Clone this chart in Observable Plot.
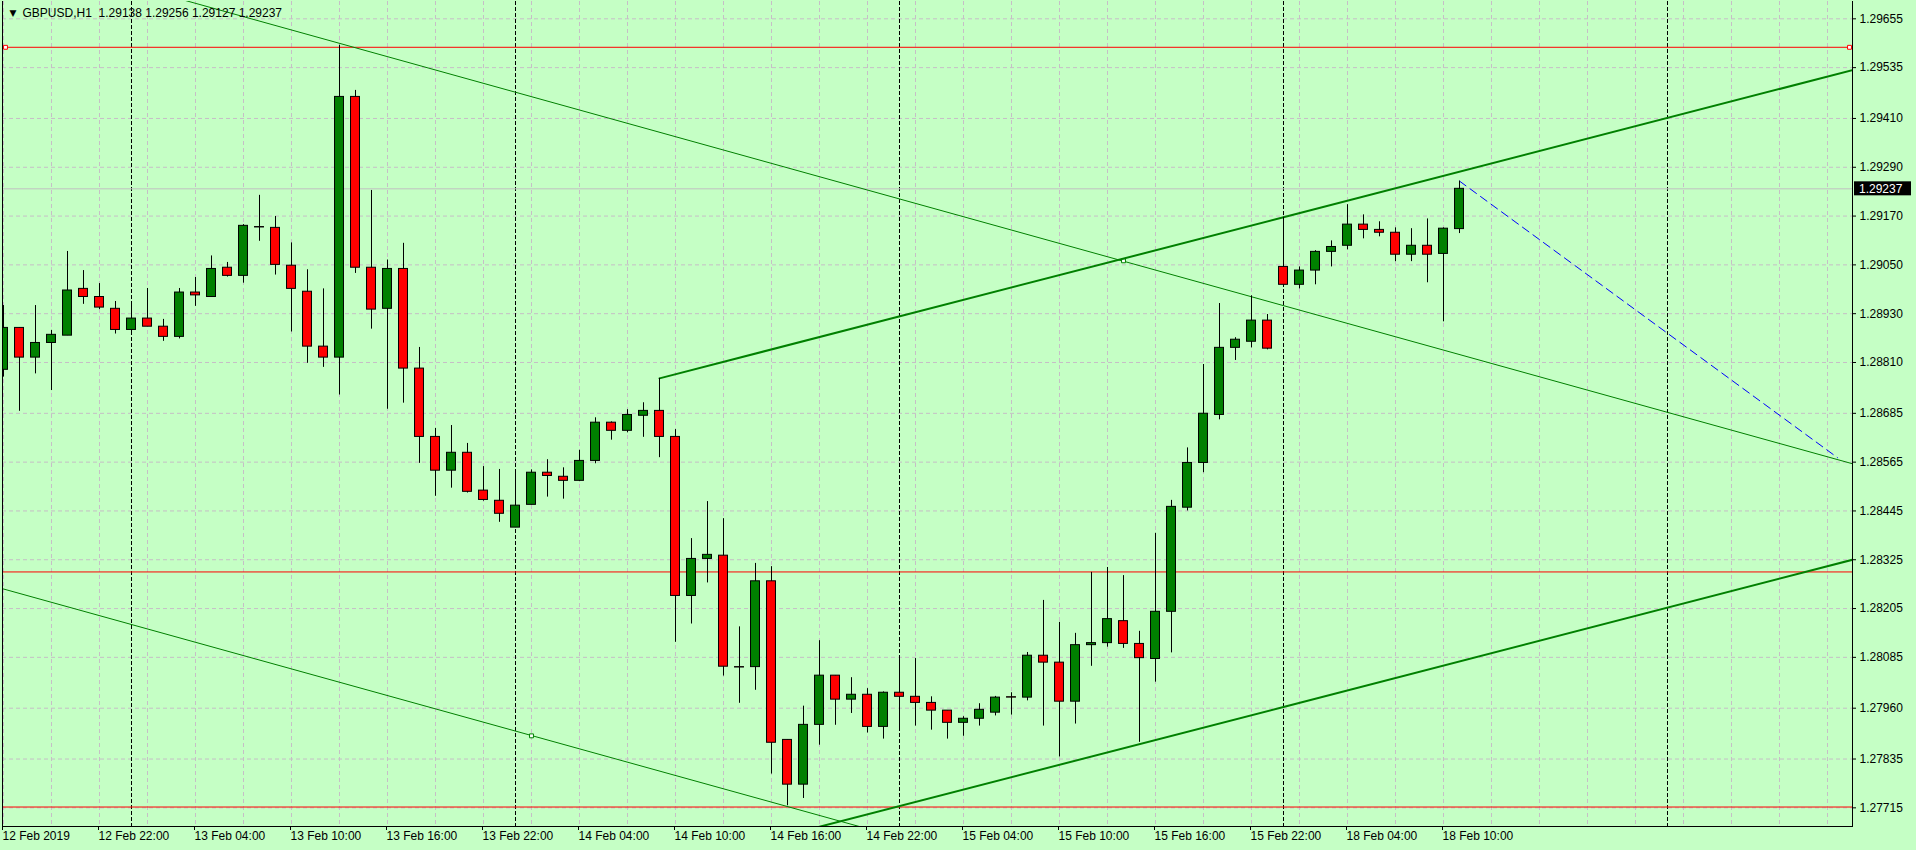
<!DOCTYPE html>
<html><head><meta charset="utf-8">
<script src="https://cdn.jsdelivr.net/npm/d3@7"></script>
<script src="https://cdn.jsdelivr.net/npm/@observablehq/plot@0.6"></script>
<style>
html,body{margin:0;padding:0;background:#C5FFC5;overflow:hidden;}
#chart{position:relative;width:1916px;height:850px;}
</style></head><body><div id="chart"></div>
<script>
// ---- data (H1 bars, index 0 = 12 Feb 2019 16:00) ----
const symbolTitle = "GBPUSD,H1";
const lastOHLC = ["1.29138", "1.29256", "1.29127", "1.29237"];

const opens = [1.28792,1.28895,1.28822,1.28858,1.28876,1.28991,1.28971,1.28942,1.28890,1.28918,
1.28898,1.28873,1.28982,1.28971,1.29043,1.29023,1.29143,1.29141,1.29048,1.28984,
1.28849,1.28822,1.29463,1.29043,1.28942,1.29040,1.28795,1.28627,1.28544,1.28588,
1.28495,1.28470,1.28404,1.28460,1.28539,1.28529,1.28519,1.28568,1.28662,1.28642,
1.28679,1.28691,1.28627,1.28236,1.28327,1.28335,1.28061,1.28061,1.28272,1.27882,
1.27772,1.27919,1.28040,1.27981,1.27993,1.27914,1.27998,1.27988,1.27973,1.27954,
1.27924,1.27934,1.27949,1.27987,1.27986,1.28089,1.28072,1.27976,1.28115,1.28120,
1.28174,1.28118,1.28081,1.28197,1.28453,1.28563,1.28681,1.28846,1.28861,1.28913,
1.29045,1.29001,1.29036,1.29082,1.29097,1.29149,1.29136,1.29129,1.29075,1.29097,
1.29077,1.29138];
const highs = [1.28950,1.28896,1.28950,1.28889,1.29083,1.29036,1.29004,1.28960,1.28960,1.28992,
1.28916,1.28992,1.29019,1.29072,1.29056,1.29149,1.29221,1.29169,1.29104,1.29038,
1.28991,1.29590,1.29479,1.29233,1.29062,1.29103,1.28847,1.28648,1.28655,1.28611,
1.28554,1.28547,1.28544,1.28546,1.28571,1.28551,1.28594,1.28674,1.28664,1.28694,
1.28711,1.28771,1.28645,1.28377,1.28468,1.28426,1.28160,1.28316,1.28308,1.27882,
1.27965,1.28126,1.28040,1.28035,1.28008,1.28000,1.28086,1.28082,1.27988,1.27954,
1.27939,1.27971,1.27989,1.27998,1.28097,1.28225,1.28171,1.28144,1.28294,1.28306,
1.28286,1.28149,1.28390,1.28471,1.28600,1.28805,1.28955,1.28871,1.28974,1.28928,
1.29167,1.29045,1.29085,1.29109,1.29198,1.29173,1.29156,1.29141,1.29139,1.29163,
1.29141,1.29256];
const lows = [1.28774,1.28690,1.28782,1.28741,1.28876,1.28953,1.28940,1.28880,1.28878,1.28898,
1.28862,1.28868,1.28948,1.28971,1.29020,1.29005,1.29108,1.29025,1.28885,1.28808,
1.28798,1.28730,1.29029,1.28892,1.28695,1.28710,1.28562,1.28481,1.28501,1.28489,
1.28469,1.28417,1.28404,1.28460,1.28479,1.28474,1.28517,1.28561,1.28619,1.28637,
1.28626,1.28576,1.28122,1.28167,1.28268,1.28039,1.27972,1.28004,1.27798,1.27720,
1.27738,1.27869,1.27918,1.27947,1.27899,1.27884,1.27903,1.27916,1.27906,1.27884,
1.27891,1.27916,1.27941,1.27943,1.27978,1.27916,1.27840,1.27921,1.28063,1.28110,
1.28107,1.27876,1.28024,1.28096,1.28445,1.28539,1.28669,1.28815,1.28846,1.28841,
1.29001,1.28991,1.29001,1.29045,1.29087,1.29114,1.29119,1.29058,1.29058,1.29006,
1.28910,1.29127];
const closes = [1.28895,1.28822,1.28858,1.28878,1.28987,1.28971,1.28945,1.28890,1.28918,1.28898,
1.28873,1.28982,1.28975,1.29040,1.29023,1.29146,1.29142,1.29050,1.28991,1.28849,
1.28822,1.29463,1.29043,1.28940,1.29040,1.28795,1.28627,1.28544,1.28588,1.28492,
1.28472,1.28438,1.28458,1.28539,1.28531,1.28519,1.28568,1.28662,1.28642,1.28681,
1.28691,1.28627,1.28236,1.28327,1.28337,1.28062,1.28060,1.28272,1.27875,1.27772,
1.27919,1.28040,1.27981,1.27993,1.27914,1.27998,1.27988,1.27973,1.27954,1.27924,
1.27934,1.27956,1.27986,1.27986,1.28089,1.28072,1.27976,1.28115,1.28120,1.28179,
1.28118,1.28083,1.28197,1.28455,1.28563,1.28684,1.28846,1.28866,1.28913,1.28844,
1.29001,1.29036,1.29082,1.29094,1.29149,1.29136,1.29129,1.29075,1.29097,1.29075,
1.29139,1.29237];

// axis ticks
const priceTicks = [1.29655,1.29535,1.29410,1.29290,1.29170,1.29050,1.28930,1.28810,1.28685,
  1.28565,1.28445,1.28325,1.28205,1.28085,1.27960,1.27835,1.27715];
const timeTickBars = [0,6,12,18,24,30,36,42,48,54,60,66,72,78,84,90];
const timeTickLabels = ["12 Feb 2019","12 Feb 22:00","13 Feb 04:00","13 Feb 10:00","13 Feb 16:00",
  "13 Feb 22:00","14 Feb 04:00","14 Feb 10:00","14 Feb 16:00","14 Feb 22:00","15 Feb 04:00",
  "15 Feb 10:00","15 Feb 16:00","15 Feb 22:00","18 Feb 04:00","18 Feb 10:00"];
const daySeparatorBars = [8, 32, 56, 80, 104];

// drawn objects (bar index, price)
const horizontalLevels = [1.29585, 1.28295, 1.27717];
const levelEndMarks = [{i: 0.125, p: 1.29585}, {i: 115.375, p: 1.29585}];
const upperThinLine = [{i: 10, p: 1.29715}, {i: 115.5625, p: 1.28561}];
const lowerThinLine = [{i: -1, p: 1.28264}, {i: 60, p: 1.27598}];
const thinLineAnchors = [{i: 70, p: 1.29060}, {i: 33, p: 1.27892}];
const upperThickLine = [{i: 41, p: 1.28771}, {i: 80, p: 1.29167}, {i: 115.5625, p: 1.29529}];
const lowerThickLine = [{i: 41, p: 1.27567}, {i: 80, p: 1.27963}, {i: 115.5625, p: 1.28325}];
const blueDashLine = [{i: 91, p: 1.29256}, {i: 114.625, p: 1.28576}];

// ---- build ----
const bars = opens.map((o, i) => ({i, open: o, high: highs[i], low: lows[i], close: closes[i]}));
const lastClose = closes[closes.length - 1];
const labelOf = new Map(timeTickBars.map((b, k) => [b, timeTickLabels[k]]));
const gridBars = d3.range(0, 116, 3);

const BG = "#C5FFC5", GRID = "#C6BEC6", GREEN = "#008000", RED = "#FF0000";
const FONT = "'Liberation Sans', Arial, sans-serif";

const chart = Plot.plot({
  width: 1916, height: 850,
  marginLeft: 2, marginRight: 64, marginTop: 1, marginBottom: 24,
  style: {background: BG, fontFamily: FONT, fontSize: "12px", color: "black", overflow: "visible"},
  x: {type: "linear", domain: [-1/16, 115.5625], axis: null, label: null},
  y: {type: "linear", domain: [1.276691, 1.296976], axis: null, label: null},
  marks: [
    // grid
    Plot.ruleX(gridBars, {x: d => d, stroke: GRID, strokeDasharray: "4,3"}),
    Plot.ruleY(priceTicks, {y: d => d, stroke: GRID, strokeDasharray: "4,3"}),
    Plot.ruleX(daySeparatorBars, {x: d => d, stroke: "black", strokeDasharray: "4,2"}),
    // bid line
    Plot.ruleY([lastClose], {y: d => d, stroke: "#C0C0C0"}),
    // horizontal levels
    Plot.ruleY(horizontalLevels, {y: d => d, stroke: RED, strokeWidth: 1}),
    Plot.dot(levelEndMarks, {x: "i", y: "p", symbol: "square", r: 2.2, stroke: RED, fill: "white", strokeWidth: 1}),
    // channels
    Plot.line(upperThinLine, {x: "i", y: "p", stroke: GREEN, strokeWidth: 1, clip: true}),
    Plot.line(lowerThinLine, {x: "i", y: "p", stroke: GREEN, strokeWidth: 1, clip: true}),
    Plot.dot(thinLineAnchors, {x: "i", y: "p", symbol: "square", r: 2.2, stroke: GREEN, fill: "white", strokeWidth: 1}),
    Plot.line(upperThickLine, {x: "i", y: "p", stroke: GREEN, strokeWidth: 2, clip: true}),
    Plot.line(lowerThickLine, {x: "i", y: "p", stroke: GREEN, strokeWidth: 2, clip: true}),
    Plot.line(blueDashLine, {x: "i", y: "p", stroke: "#0000FF", strokeWidth: 1, strokeDasharray: "8,5", clip: true}),
    // candles
    Plot.ruleX(bars, {x: "i", y1: "low", y2: "high", stroke: "black", strokeWidth: 1, clip: true}),
    Plot.rect(bars, {x1: d => d.i - 0.28, x2: d => d.i + 0.28, y1: "open", y2: "close",
      fill: d => d.close >= d.open ? GREEN : RED, stroke: "black", strokeWidth: 1, clip: true}),
    // frame
    Plot.frame({anchor: "left", stroke: "black"}),
    Plot.frame({anchor: "right", stroke: "black"}),
    Plot.frame({anchor: "bottom", stroke: "black"}),
    // axes
    Plot.axisY(priceTicks, {anchor: "right", tickSize: 3, tickPadding: 4, label: null,
      tickFormat: d => d.toFixed(5), fontSize: 12, fill: "black"}),
    Plot.axisX(timeTickBars, {anchor: "bottom", tickSize: 4, tickPadding: 1, label: null,
      tickFormat: d => labelOf.get(d), textAnchor: "start", dx: -1, fontSize: 12, fill: "black"}),
    // title
    Plot.text(["\u25BC"], {frameAnchor: "top-left", dx: 7, dy: 12, textAnchor: "start", lineAnchor: "middle",
      fontSize: 9, fill: "black", fontFamily: "DejaVu Sans"}),
    Plot.text([symbolTitle + "\u00A0\u00A0" + lastOHLC.join(" ")], {frameAnchor: "top-left", dx: 20, dy: 12,
      textAnchor: "start", lineAnchor: "middle", fontSize: 12, fill: "black"})
  ]
});

document.getElementById("chart").appendChild(chart);

// current price tag on the right axis
const svg = d3.select(chart);
const yPix = chart.scale("y").apply(lastClose);
const xRight = chart.scale("x").apply(115.5625);
svg.append("rect").attr("x", xRight + 2).attr("y", yPix - 7).attr("width", 57).attr("height", 14).attr("fill", "black");
svg.append("text").attr("x", xRight + 7).attr("y", yPix).attr("dy", "0.35em")
  .attr("text-anchor", "start")
  .attr("fill", "white").attr("font-family", FONT).attr("font-size", 12).text(lastOHLC[3]);
</script></body></html>
